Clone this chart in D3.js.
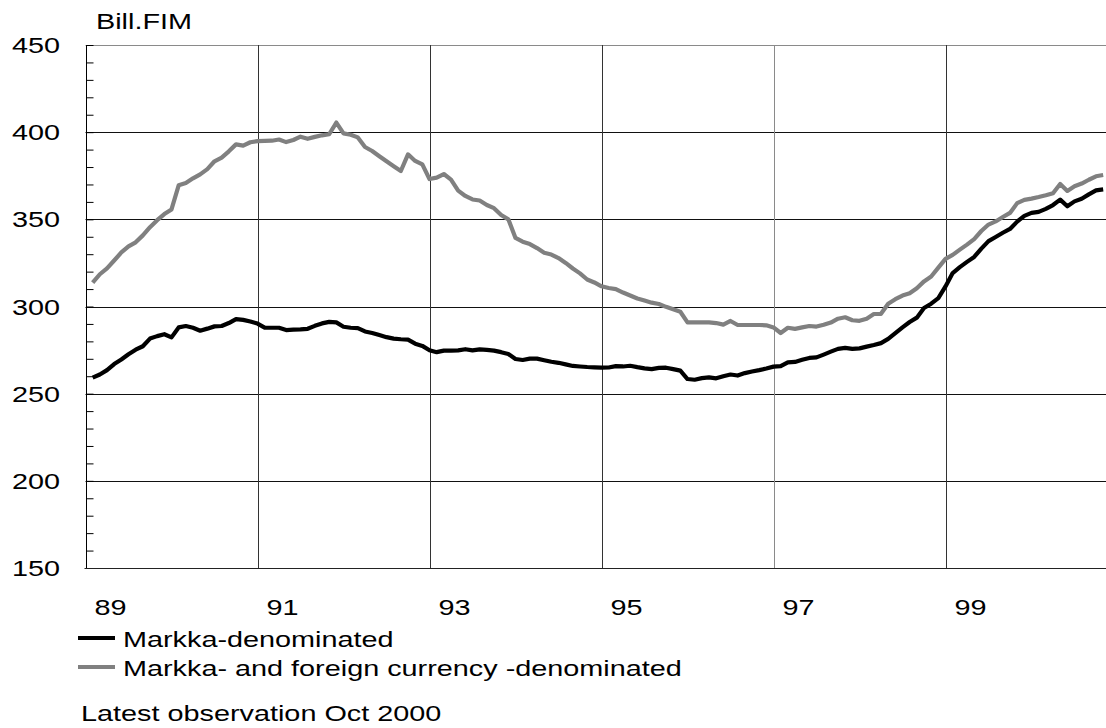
<!DOCTYPE html>
<html><head><meta charset="utf-8">
<script src="https://cdn.jsdelivr.net/npm/d3@7"></script>
<style>body{margin:0;background:#fff}</style>
</head><body><svg id="c" width="1106" height="728"></svg>
<script>
// Monthly observations, Jan 1989 .. Oct 2000 (bill. FIM)
const yearLabels = ["89","91","93","95","97","99"];
const yTickValues = [150,200,250,300,350,400,450];
const seriesNames = ["Markka-denominated","Markka- and foreign currency -denominated"];
const unitLabel = "Bill.FIM";
const footnote = "Latest observation Oct 2000";

const markka = [
259.2,261,263.5,267,269.6,272.6,275.2,277.2,281.6,283,284.1,282.3,
288,288.8,287.8,286.1,287.3,288.6,288.8,290.5,292.8,292.3,291.4,290.2,
287.9,287.8,287.8,286.5,286.7,286.9,287.2,288.9,290.3,291.2,290.9,288.4,
287.8,287.6,285.7,284.8,283.6,282.4,281.6,281.2,281,278.7,277.4,274.9,
273.8,274.7,274.7,274.8,275.5,274.8,275.4,275.1,274.7,273.8,272.8,269.9,
269.3,270.1,270.1,269.2,268.3,267.7,266.8,265.9,265.6,265.3,265.1,264.9,
265,265.8,265.6,266,265.2,264.5,264.1,264.8,264.9,264.1,263.2,258.4,
258,258.9,259.3,258.8,260,261,260.4,261.8,262.7,263.5,264.4,265.5,
265.8,268,268.2,269.4,270.5,270.8,272.4,274.1,275.7,276.3,275.7,276,
277,277.9,279,281.4,284.7,288,291.1,293.6,299.1,301.6,304.8,311.5,
319.2,322.6,325.6,328.4,333.2,337.5,339.9,342.3,344.5,348.7,352,353.7,
354.3,356,358.2,361.3,357.5,360.3,361.8,364.3,366.6,367.2
];
const markkaForeign = [
313.7,318.5,321.9,326.4,331,334.5,336.8,340.8,345.5,349.5,353,355.7,
369.5,370.8,373.5,375.8,378.8,383.3,385.4,389,393,392.3,394.2,394.9,
395,395.1,395.8,394.3,395.5,397.4,396.2,397.3,398.2,398.8,405.5,399.3,
398.5,397,391.5,389.2,386.2,383.3,380.5,377.7,387.3,383.5,381.5,373.1,
373.9,376,372.8,366.5,363.4,361.4,360.8,358.2,356.4,352.5,350,339.3,
337.2,335.8,333.5,330.8,329.8,327.8,325,321.8,319,315.5,313.8,311.6,
310.6,310,308,306.3,304.6,303.4,302.2,301.4,299.8,298.4,297,290.9,
290.9,290.9,290.9,290.5,289.6,291.7,289.4,289.4,289.4,289.4,289.2,288,
284.8,287.8,287.2,288,288.8,288.5,289.5,290.8,293,293.8,292.1,291.8,
293,295.7,295.8,301.6,304.2,306.3,307.6,310.5,314.4,317.2,322.3,327.3,
329.6,332.6,335.5,338.7,343.3,347,348.8,351.3,353.7,359.3,361.2,361.9,
362.8,363.8,365,370.3,366.3,369,370.5,372.7,374.7,375.4
];

const FONT = "'Liberation Sans', Arial, Helvetica, sans-serif";
const FS = 22, SX = 1.31;
const svg = d3.select("#c");

const x = d3.scaleLinear().domain([-1, 141.5]).range([85.5, 85.5 + 142.5 * 7.1667]);
const y = d3.scaleLinear().domain([150, 450]).range([568, 45]);
const xRight = 1106;

function label(txt, px, py, anchor) {
  const g = svg.append("g").attr("transform", `translate(${px},${py}) scale(${SX},1)`);
  g.append("text").attr("x", 0).attr("y", 0).attr("text-anchor", anchor || "start")
    .attr("font-family", FONT).attr("font-size", FS).attr("fill", "#000").text(txt);
}

// horizontal gridlines
svg.append("g").selectAll("line").data(yTickValues.filter(v => v > 150)).join("line")
  .attr("x1", x(-1)).attr("x2", xRight)
  .attr("y1", d => Math.round(y(d)) + 0.5).attr("y2", d => Math.round(y(d)) + 0.5)
  .attr("stroke", d => d === 450 ? "#8a8a8a" : "#111").attr("stroke-width", 1);

// vertical gridlines (every second year)
const gridIdx = yearLabels.slice(1).map((d, i) => 23 + 24 * i);
svg.append("g").selectAll("line").data(gridIdx).join("line")
  .attr("x1", d => Math.round(x(d)) + 0.5).attr("x2", d => Math.round(x(d)) + 0.5)
  .attr("y1", y(450)).attr("y2", y(150))
  .attr("stroke", (d, i) => i === 3 ? "#8a8a8a" : "#333").attr("stroke-width", 1);

// left axis with minor ticks
const yAxis = d3.axisRight(y).tickValues(d3.range(150, 451, 10)).tickSize(7).tickFormat("");
const ax = svg.append("g").attr("transform", `translate(${Math.round(x(-1)) + 0.5},0)`).call(yAxis);
ax.select(".domain").remove();
ax.selectAll("line").attr("stroke", "#000");
svg.append("line").attr("x1", Math.round(x(-1)) + 0.5).attr("x2", Math.round(x(-1)) + 0.5)
  .attr("y1", y(450)).attr("y2", y(150) + 1).attr("stroke", "#000");
// bottom axis line
svg.append("line").attr("x1", x(-1) - 1).attr("x2", xRight).attr("y1", Math.round(y(150)) + 0.5)
  .attr("y2", Math.round(y(150)) + 0.5).attr("stroke", "#222").attr("stroke-width", 1.2);

// series lines
const line = d3.line().x((d, i) => x(i)).y(d => y(d));
svg.append("path").datum(markkaForeign).attr("d", line).attr("fill", "none")
  .attr("stroke", "#808080").attr("stroke-width", 4.2).attr("stroke-linejoin", "round");
svg.append("path").datum(markka).attr("d", line).attr("fill", "none")
  .attr("stroke", "#000").attr("stroke-width", 4.2).attr("stroke-linejoin", "round");

// y tick labels
yTickValues.forEach(v => label(String(v), 60, y(v) + 8, "end"));
// x tick labels
yearLabels.forEach((t, i) => label(t, x(2.5 + 24 * i), 615, "middle"));
// unit label
label(unitLabel, 96, 28.5, "start");

// legend
const legY = [638, 667];
const legColors = ["#000", "#808080"];
seriesNames.forEach((n, i) => {
  svg.append("line").attr("x1", 78).attr("x2", 115).attr("y1", legY[i]).attr("y2", legY[i])
    .attr("stroke", legColors[i]).attr("stroke-width", 4);
  label(n, 123, legY[i] + 9, "start");
});
label(footnote, 81, 721, "start");
</script>
</body></html>
